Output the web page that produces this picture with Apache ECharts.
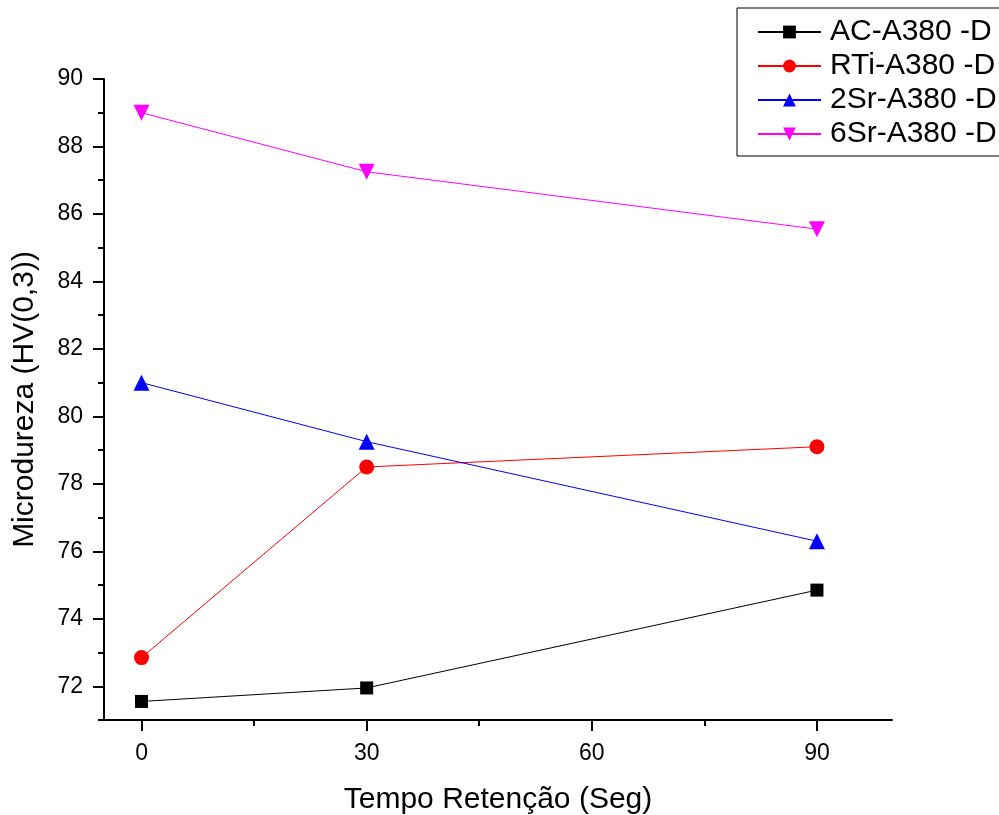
<!DOCTYPE html>
<html>
<head>
<meta charset="utf-8">
<script src="https://cdn.jsdelivr.net/npm/echarts@6/dist/echarts.min.js"></script>
<style>
  html, body { margin:0; padding:0; background:#fff; }
  #chart { width:999px; height:815px; }
</style>
</head>
<body>
<div id="chart"></div>
<script>
// ======== データ ========
const tempos = [0, 30, 90];
const nomes = ['AC-A380 -D', 'RTi-A380 -D', '2Sr-A380 -D', '6Sr-A380 -D'];
const valoresAC  = [71.55, 71.95, 74.85];
const valoresRTi = [72.85, 78.5, 79.1];
const valores2Sr = [81.0, 79.25, 76.3];
const valores6Sr = [89.0, 87.25, 85.55];
const xTicks = [0, 30, 60, 90];
const xMinor = [15, 45, 75];
const yTicks = [72, 74, 76, 78, 80, 82, 84, 86, 88, 90];
const yMinor = [71, 73, 75, 77, 79, 81, 83, 85, 87, 89];

const fonte = '"Liberation Sans", Arial, sans-serif';
const chart = echarts.init(document.getElementById('chart'), null, { renderer:'canvas' });

function pares(vals){ return tempos.map((t, i) => [t, vals[i]]); }

function serie(nome, vals, cor, simbolo, tam, rot){
  return {
    name:nome, type:'line', data:pares(vals),
    symbol:simbolo, symbolSize:tam, symbolRotate:rot || 0, showSymbol:true,
    itemStyle:{ color:cor }, lineStyle:{ color:cor, width:1 },
    emphasis:{ disabled:true }, animation:false, z:3
  };
}

const eixoLinha = { show:true, onZero:false, lineStyle:{ color:'#000', width:2 } };

chart.setOption({
  backgroundColor:'#fff',
  animation:false,
  grid:{ left:104, right:107, top:79, bottom:95, outerBoundsMode:'none', containLabel:false },
  legend:{
    orient:'vertical', left:737, top:8,
    padding:[9, 30, 7, 20],
    itemWidth:63, itemHeight:16, itemGap:4,
    borderColor:'#000', borderWidth:1, backgroundColor:'#fff',
    textStyle:{ fontFamily:fonte, fontSize:30, color:'#000', lineHeight:30, padding:[0, 0, 0, 4] },
    data:nomes
  },
  xAxis:[
    { type:'value', min:-5, max:100,
      name:'Tempo Retenção (Seg)', nameLocation:'middle', nameGap:65, nameMoveOverlap:false,
      nameTextStyle:{ fontFamily:fonte, fontSize:30, color:'#000' },
      axisLine:eixoLinha,
      axisTick:{ show:true, inside:false, length:11, customValues:xTicks, lineStyle:{ color:'#000', width:2 } },
      axisLabel:{ customValues:xTicks, fontFamily:fonte, fontSize:23, color:'#000', margin:22 },
      splitLine:{ show:false } },
    { type:'value', min:-5, max:100, position:'bottom',
      axisLine:{ show:false, onZero:false },
      axisTick:{ show:true, length:6, customValues:xMinor, lineStyle:{ color:'#000', width:2 } },
      axisLabel:{ show:false }, splitLine:{ show:false } }
  ],
  yAxis:[
    { type:'value', min:71, max:90,
      name:'Microdureza (HV(0,3))', nameLocation:'middle', nameGap:64, nameMoveOverlap:false,
      nameTextStyle:{ fontFamily:fonte, fontSize:30, color:'#000' },
      axisLine:eixoLinha,
      axisTick:{ show:true, inside:false, length:11, customValues:yTicks, lineStyle:{ color:'#000', width:2 } },
      axisLabel:{ customValues:yTicks, fontFamily:fonte, fontSize:23, color:'#000', margin:21 },
      splitLine:{ show:false } },
    { type:'value', min:71, max:90, position:'left',
      axisLine:{ show:false, onZero:false },
      axisTick:{ show:true, length:6, customValues:yMinor, lineStyle:{ color:'#000', width:2 } },
      axisLabel:{ show:false }, splitLine:{ show:false } }
  ],
  series:[
    serie(nomes[0], valoresAC,  '#000000', 'rect', 13),
    serie(nomes[1], valoresRTi, '#ff0000', 'circle', 15),
    serie(nomes[2], valores2Sr, '#0000ff', 'triangle', 16),
    serie(nomes[3], valores6Sr, '#ff00ff', 'triangle', 16, 180)
  ]
});
</script>
</body>
</html>
